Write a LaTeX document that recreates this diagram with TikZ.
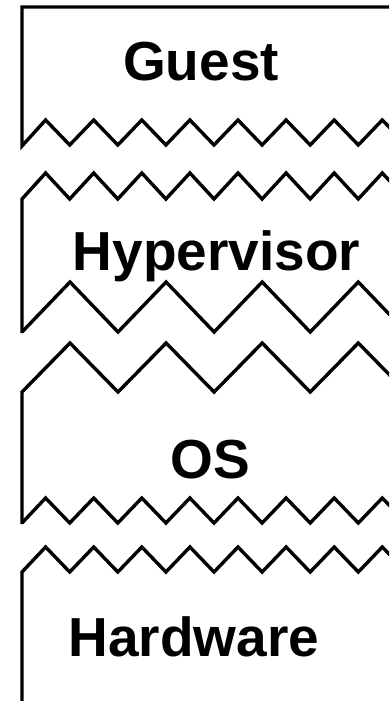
\documentclass[tikz,border=0pt]{standalone}
\usepackage{fontspec}
\setmainfont{Liberation Sans}
\begin{document}
\begin{tikzpicture}[x=1pt,y=-1pt,
  edge/.style={line width=3.4pt, line join=miter, line cap=butt},
  lbl/.style={font=\fontsize{55}{60}\selectfont\bfseries, anchor=base, inner sep=0pt}]
\useasboundingbox (0,0) rectangle (389,701);
\clip (0,0) rectangle (389,701);
% Guest
\draw[edge] (395,7) -- (22,7) -- (22,146)
  \foreach \k in {0,...,8} { -- ({45.6+48.1*\k},120) -- ({69.7+48.1*\k},145) };
% Hypervisor
\draw[edge] (22,333) -- (22,199)
  \foreach \k in {0,...,8} { -- ({45.6+48.1*\k},173) -- ({69.7+48.1*\k},199) };
\draw[edge] (22,332)
  \foreach \k in {0,...,4} { -- ({70+96.1*\k},282) -- ({118+96.1*\k},332) };
% OS
\draw[edge] (22,524) -- (22,392)
  \foreach \k in {0,...,4} { -- ({70+96.1*\k},343) -- ({118+96.1*\k},392) };
\draw[edge] (22,523)
  \foreach \k in {0,...,8} { -- ({45.6+48.1*\k},498) -- ({69.7+48.1*\k},523) };
% Hardware
\draw[edge] (22,710) -- (22,572)
  \foreach \k in {0,...,8} { -- ({45.6+48.1*\k},547) -- ({69.7+48.1*\k},572) };
\node[lbl] (guest) at (201,81) {Guest};
\node[lbl] (hyper) at (216.5,270) {Hypervisor};
\node[lbl] (os) at (210,478) {OS};
\node[lbl] (hw) at (194,656) {Hardware};
\end{tikzpicture}
\end{document}
